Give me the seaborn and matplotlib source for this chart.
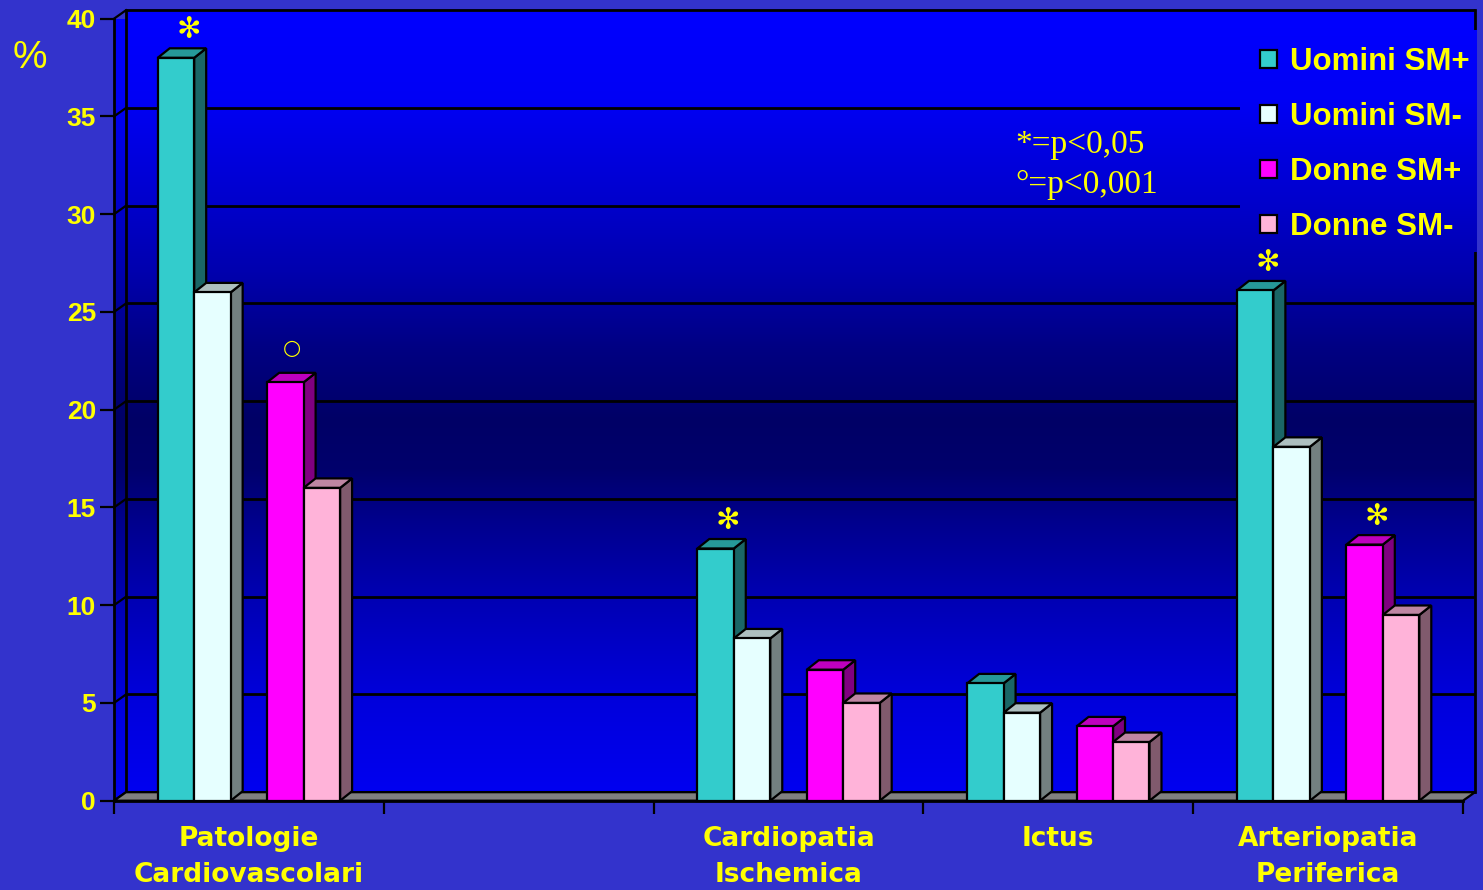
import numpy as np
import pandas as pd
import matplotlib
matplotlib.use("Agg")
import matplotlib.pyplot as plt
import seaborn as sns
from matplotlib.patches import Polygon, Patch
from matplotlib.font_manager import FontProperties

# ---------------- data ----------------
categories = ["Patologie\nCardiovascolari", "", "Cardiopatia\nIschemica", "Ictus",
              "Arteriopatia\nPeriferica"]
plotted_categories = ["Patologie\nCardiovascolari", "Cardiopatia\nIschemica", "Ictus",
                      "Arteriopatia\nPeriferica"]
series = ["Uomini SM+", "Uomini SM-", "Donne SM+", "Donne SM-"]
uomini_sm_plus = [38.0, 12.9, 6.0, 26.1]
uomini_sm_minus = [26.0, 8.3, 4.5, 18.1]
donne_sm_plus = [21.4, 6.7, 3.8, 13.1]
donne_sm_minus = [16.0, 5.0, 3.0, 9.5]
series_colors = ["#33CCCC", "#E6FFFF", "#FF00FF", "#FFB3D9"]
y_ticks = [0, 5, 10, 15, 20, 25, 30, 35, 40]
y_label = "%"
significance = [
    ("Patologie\nCardiovascolari", "Uomini SM+", "*"),
    ("Patologie\nCardiovascolari", "Donne SM+", "\u25CB"),
    ("Cardiopatia\nIschemica", "Uomini SM+", "*"),
    ("Arteriopatia\nPeriferica", "Uomini SM+", "*"),
    ("Arteriopatia\nPeriferica", "Donne SM+", "*"),
]
note_text = "*=p<0,05\n\u00B0=p<0,001"

values = [uomini_sm_plus, uomini_sm_minus, donne_sm_plus, donne_sm_minus]
rows = []
for s, vals in zip(series, values):
    for c, v in zip(plotted_categories, vals):
        rows.append({"categoria": c, "serie": s, "valore": v})
df = pd.DataFrame(rows)

GAP = "_gap"
hue_order = series[:2] + [GAP] + series[2:]
palette = dict(zip(series, series_colors))
palette[GAP] = "#000000"

# ---------------- figure ----------------
W, H = 1483, 890
YELLOW = "#FFFF00"
BG = "#3333CC"
fig = plt.figure(figsize=(W / 100, H / 100), dpi=100, facecolor=BG)
ax = fig.add_axes([114 / W, 1 - 800.7 / H, 1349 / W, 782 / H])
ax.set_facecolor("none")

XMIN, XMAX, YMIN, YMAX = -0.5, 4.5, 0, 40
PX = (XMAX - XMIN) / 1349.0
PY = (YMAX - YMIN) / 782.0
WX, WY = 12 * PX, 8.5 * PY      # wall depth
BX, BY = 12 * PX, 9.5 * PY      # bar depth

# gradient (blue channel by screen y)
stops_y = [10, 100, 200, 270, 350, 420, 470, 520, 600, 700, 792]
stops_b = [255, 245, 205, 175, 130, 102, 108, 140, 180, 220, 240]


def grad_img(py0, py1, n=300):
    ys = np.linspace(py0, py1, n)
    b = np.interp(ys, stops_y, stops_b) / 255.0
    img = np.zeros((n, 1, 3))
    img[:, 0, 2] = b
    return img


# front / side-wall fill
im1 = ax.imshow(grad_img(18, 800), extent=(XMIN, XMAX, YMIN, YMAX), aspect="auto",
                origin="upper", zorder=0, interpolation="bilinear")
# back wall
im2 = ax.imshow(grad_img(10, 792), extent=(XMIN + WX, XMAX + WX, YMIN + WY, YMAX + WY),
                aspect="auto", origin="upper", zorder=0.1, interpolation="bilinear")
im2.set_clip_on(False)

# gridlines on back wall + side-wall diagonals
for v in y_ticks:
    ax.plot([XMIN + WX, XMAX + WX], [v + WY, v + WY], color="black", lw=2,
            zorder=0.5, clip_on=False, solid_capstyle="butt")
    ax.plot([XMIN, XMIN + WX], [v, v + WY], color="black", lw=1.6, zorder=0.5,
            clip_on=False)
for xe in (XMIN + WX, XMAX + WX):
    ax.plot([xe, xe], [YMIN + WY, YMAX + WY], color="black", lw=2, zorder=0.5,
            clip_on=False)

# legend area cover (same gradient hides gridlines behind the legend)
cx0 = XMIN + (1240 - 114) * PX
cx1 = XMIN + (1476.5 - 114) * PX
cy_top, cy_bot = 31, 252
im3 = ax.imshow(grad_img(cy_top, cy_bot), extent=(cx0, cx1, (800.7 - cy_bot) * PY,
                (800.7 - cy_top) * PY), aspect="auto", origin="upper", zorder=0.8,
                interpolation="bilinear")
im3.set_clip_on(False)

# floor
floor = Polygon([(XMIN, 0), (XMAX, 0), (XMAX + WX, WY), (XMIN + WX, WY)],
                closed=True, facecolor="#808080", edgecolor="black", lw=1.6,
                zorder=1, clip_on=False)
ax.add_patch(floor)

# ---------------- bars (seaborn) ----------------
n_before = len(ax.patches)
BAR_GROUP_W = 0.676
sns.barplot(data=df, x="categoria", y="valore", hue="serie", order=categories,
            hue_order=hue_order, palette=palette, width=BAR_GROUP_W, gap=0,
            dodge=True, saturation=1, errorbar=None, legend=False, ax=ax,
            edgecolor="black", linewidth=1.6)
bars = [p for p in ax.patches[n_before:]
        if np.isfinite(p.get_height()) and p.get_height() > 0]
bars.sort(key=lambda p: p.get_x())
for rank, p in enumerate(bars):
    x0, w, h = p.get_x(), p.get_width(), p.get_height()
    fc = np.array(matplotlib.colors.to_rgb(p.get_facecolor()))
    z = 2 + rank * 0.01
    side = Polygon([(x0 + w, 0), (x0 + w + BX, BY), (x0 + w + BX, h + BY), (x0 + w, h)],
                   closed=True, facecolor=fc * 0.5, edgecolor="black", lw=1.6,
                   zorder=z, clip_on=False, joinstyle="miter")
    top = Polygon([(x0, h), (x0 + BX, h + BY), (x0 + w + BX, h + BY), (x0 + w, h)],
                  closed=True, facecolor=fc * 0.75, edgecolor="black", lw=1.6,
                  zorder=z + 0.001, clip_on=False, joinstyle="miter")
    ax.add_patch(side)
    ax.add_patch(top)
    p.set_zorder(z + 0.002)
    p.set_clip_on(False)
    p.set_joinstyle("miter")

# significance marks
bar_w = BAR_GROUP_W / len(hue_order)
for cat, ser, sym in significance:
    ci = categories.index(cat)
    hi = hue_order.index(ser)
    xc = ci + (hi - (len(hue_order) - 1) / 2) * bar_w
    val = values[series.index(ser)][plotted_categories.index(cat)]
    if sym == "*":
        ax.annotate("\u273B", xy=(xc, val), xytext=(9, 20), textcoords="offset points",
                    ha="center", va="center", color=YELLOW, fontsize=21,
                    family="DejaVu Sans", zorder=10, annotation_clip=False)
    else:
        ax.annotate(sym, xy=(xc, val), xytext=(5, 25), textcoords="offset points",
                    ha="center", va="center", color=YELLOW, fontsize=15,
                    family="DejaVu Sans", zorder=10, annotation_clip=False)

# ---------------- axes styling ----------------
ax.set_xlim(XMIN, XMAX)
ax.set_ylim(YMIN, YMAX)
for s in ("top", "right"):
    ax.spines[s].set_visible(False)
ax.spines["left"].set_linewidth(2)
ax.spines["bottom"].set_linewidth(2)
ax.spines["left"].set_zorder(5)
ax.spines["bottom"].set_zorder(5)

ax.set_yticks(y_ticks)
ax.set_yticklabels([str(t) for t in y_ticks])
ax.tick_params(axis="y", length=10, width=1.6, color="black", pad=3)
for lab in ax.get_yticklabels():
    lab.set_fontproperties(FontProperties(family="Liberation Sans", weight="bold", size=19))
    lab.set_color(YELLOW)

ax.set_xticks(np.arange(-0.5, 5.0, 1.0))
ax.set_xticklabels([""] * 6)
ax.set_xticks(np.arange(len(categories)), minor=True)
ax.set_xticklabels(categories, minor=True)
ax.tick_params(axis="x", which="major", length=9.5, width=1.6, color="black")
ax.tick_params(axis="x", which="minor", length=0, pad=18)
for lab in ax.get_xticklabels(minor=True):
    lab.set_fontproperties(FontProperties(family="DejaVu Sans", weight="bold", size=19))
    lab.set_color(YELLOW)
    lab.set_linespacing(1.5)
    lab.set_verticalalignment("top")
ax.set_xlabel("")
ax.set_ylabel("")

fig.text(30 / W, 1 - 58 / H, y_label, ha="center", va="center", color=YELLOW,
         fontsize=28, family="Liberation Sans")

fig.text(1015 / W, 1 - 165 / H, note_text, ha="left", va="center", color=YELLOW,
         fontsize=24, family="Liberation Serif", linespacing=1.42)

handles = [Patch(facecolor=c, edgecolor="black", lw=1.6) for c in series_colors]
leg = fig.legend(handles, series, loc="upper left", bbox_to_anchor=(1260 / W, 1 - 47 / H),
                 frameon=False, prop=FontProperties(family="Liberation Sans", weight="bold",
                                                    size=22.5),
                 labelcolor=YELLOW, handlelength=0.55, handleheight=0.55,
                 handletextpad=0.4, labelspacing=0.8, borderpad=0, borderaxespad=0)

fig.savefig("out.png", dpi=100, facecolor=BG)
